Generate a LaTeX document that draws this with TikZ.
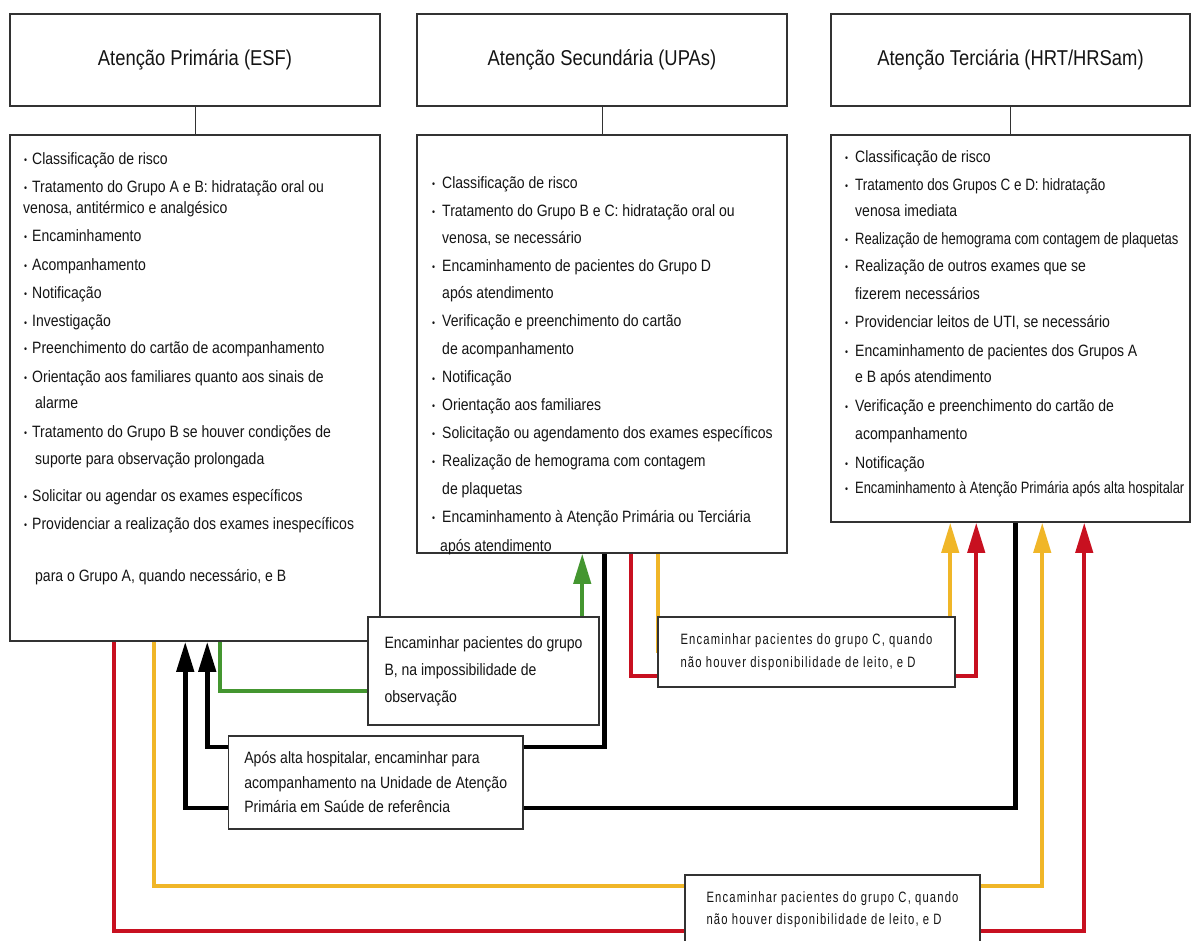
\documentclass[tikz,border=0pt]{standalone}
\usepackage{fontspec}
\usepackage{graphicx}
\setmainfont{Liberation Sans}
\newfontfamily\nf[FakeStretch=0.855]{Liberation Sans}
\newfontfamily\lf[FakeStretch=0.75,LetterSpace=7.7]{Liberation Sans}
\usetikzlibrary{arrows.meta,calc,backgrounds}
\definecolor{cred}{RGB}{200,16,32}
\definecolor{cyel}{RGB}{240,182,40}
\definecolor{cgrn}{RGB}{68,150,48}
\definecolor{ctxt}{RGB}{20,20,20}
\definecolor{cbord}{RGB}{50,50,50}
\newcommand\bul[1]{\makebox[#1][l]{\raisebox{1pt}{\fontsize{10}{10}\selectfont •}}}
\begin{document}
\begin{tikzpicture}[x=1pt,y=-1pt,
  box/.style={draw=cbord,line width=1.5pt,fill=white,rectangle,inner sep=0pt},
  head/.style={box,font=\nf\fontsize{21.5}{24}\selectfont,text=ctxt},
  tx/.style={anchor=west,inner sep=0pt,text height=11pt,text depth=3pt,text=ctxt,font=\nf\fontsize{16.4}{20}\selectfont},
  lab/.style={box,align=left,text=ctxt},
  conn/.style={line width=4pt,-{Triangle[length=30pt,width=17pt]}},
  plainc/.style={line width=4pt},
]
\useasboundingbox (0,0) rectangle (1192,941);

% headers
\node[head,minimum width=370pt,minimum height=92pt] (h1) at (195,60) {Atenção Primária (ESF)};
\node[head,minimum width=370pt,minimum height=92pt] (h2) at (602,60) {Atenção Secundária (UPAs)};
\node[head,minimum width=359pt,minimum height=92pt] (h3) at (1010.5,60) {Atenção Terciária (HRT/HRSam)};

% content boxes
\node[box,minimum width=370pt,minimum height=506pt] (c1) at (195,388) {};
\node[box,minimum width=370pt,minimum height=418pt] (c2) at (602,344) {};
\node[box,minimum width=359pt,minimum height=387pt] (c3) at (1010.5,328.5) {};

\draw[cbord,line width=1pt] (h1) -- (c1);
\draw[cbord,line width=1pt] (h2) -- (c2);
\draw[cbord,line width=1pt] (h3) -- (c3);

% box 1 text
\node[tx] (a1) at (24,161) {\bul{8pt}Classificação de risco};
\node[tx] (a2) at (24,189) {\bul{8pt}Tratamento do Grupo A e B: hidratação oral ou};
\node[tx] (a3) at (23,210) {venosa, antitérmico e analgésico};
\node[tx] (a4) at (24,238) {\bul{8pt}Encaminhamento};
\node[tx] (a5) at (24,267) {\bul{8pt}Acompanhamento};
\node[tx] (a6) at (24,295) {\bul{8pt}Notificação};
\node[tx] (a7) at (24,323) {\bul{8pt}Investigação};
\node[tx] (a8) at (24,350) {\bul{8pt}Preenchimento do cartão de acompanhamento};
\node[tx] (a9) at (24,378) {\bul{8pt}Orientação aos familiares quanto aos sinais de};
\node[tx] (a10) at (35,405) {alarme};
\node[tx] (a11) at (24,433) {\bul{8pt}Tratamento do Grupo B se houver condições de};
\node[tx] (a12) at (35,460) {suporte para observação prolongada};
\node[tx] (a13) at (24,497) {\bul{8pt}Solicitar ou agendar os exames específicos};
\node[tx] (a14) at (24,525) {\bul{8pt}Providenciar a realização dos exames inespecíficos};
\node[tx] (a15) at (35,577) {para o Grupo A, quando necessário, e B};

% box 2 text
\node[tx] (b1) at (432,185) {\bul{10pt}Classificação de risco};
\node[tx] (b2) at (432,212.6) {\bul{10pt}Tratamento do Grupo B e C: hidratação oral ou};
\node[tx] (b3) at (442,240) {venosa, se necessário};
\node[tx] (b4) at (432,268) {\bul{10pt}Encaminhamento de pacientes do Grupo D};
\node[tx] (b5) at (442,295) {após atendimento};
\node[tx] (b6) at (432,323) {\bul{10pt}Verificação e preenchimento do cartão};
\node[tx] (b7) at (442,351) {de acompanhamento};
\node[tx] (b8) at (432,379) {\bul{10pt}Notificação};
\node[tx] (b9) at (432,406) {\bul{10pt}Orientação aos familiares};
\node[tx] (b10) at (432,434) {\bul{10pt}Solicitação ou agendamento dos exames específicos};
\node[tx] (b11) at (432,462) {\bul{10pt}Realização de hemograma com contagem};
\node[tx] (b12) at (442,490) {de plaquetas};
\node[tx] (b13) at (432,518) {\bul{10pt}Encaminhamento à Atenção Primária ou Terciária};
\node[tx] (b14) at (440,547) {após atendimento};

% box 3 text
\node[tx] (d1) at (845,159) {\bul{10pt}Classificação de risco};
\node[tx] (d2) at (845,187) {\bul{10pt}\scalebox{0.96}[1]{Tratamento dos Grupos C e D: hidratação}};
\node[tx] (d3) at (855,213) {venosa imediata};
\node[tx] (d4) at (845,241) {\bul{10pt}\scalebox{0.93}[1]{Realização de hemograma com contagem de plaquetas}};
\node[tx] (d5) at (845,268) {\bul{10pt}Realização de outros exames que se};
\node[tx] (d6) at (855,296) {fizerem necessários};
\node[tx] (d7) at (845,324) {\bul{10pt}Providenciar leitos de UTI, se necessário};
\node[tx] (d8) at (845,352) {\bul{10pt}Encaminhamento de pacientes dos Grupos A};
\node[tx] (d9) at (855,379) {e B após atendimento};
\node[tx] (d10) at (845,407) {\bul{10pt}Verificação e preenchimento do cartão de};
\node[tx] (d11) at (855,435) {acompanhamento};
\node[tx] (d12) at (845,464) {\bul{10pt}Notificação};
\node[tx] (d13) at (845,489) {\bul{10pt}\scalebox{0.92}[1]{Encaminhamento à Atenção Primária após alta hospitalar}};

% label boxes
\node[lab,minimum width=231pt,minimum height=108pt,font=\nf\fontsize{16.4}{27}\selectfont] (lb) at (483.5,671)
  {Encaminhar pacientes do grupo\\B, na impossibilidade de\\observação};
\node[lab,minimum width=294.5pt,minimum height=93pt,font=\nf\fontsize{16.4}{24.5}\selectfont] (la) at (375.75,782.5)
  {Após alta hospitalar, encaminhar para\\acompanhamento na Unidade de Atenção\\Primária em Saúde de referência};
\node[lab,minimum width=297pt,minimum height=70pt,font=\lf\fontsize{15}{23}\selectfont] (lc1) at (806.5,652)
  {Encaminhar pacientes do grupo C, quando\\não houver disponibilidade de leito, e D};
\node[lab,minimum width=295pt,minimum height=70pt,font=\lf\fontsize{15}{22}\selectfont] (lc2) at (832.5,910)
  {Encaminhar pacientes do grupo C, quando\\não houver disponibilidade de leito, e D};

% connectors, behind the label boxes
\begin{pgfonlayer}{background}
\fill[white] (0,0) rectangle (1192,941);
\draw[plainc,cgrn] ([xshift=211pt]c1.south west) |- ([yshift=-20pt]lb.west);
\draw[conn,cgrn] ([xshift=215pt,yshift=-20pt]lb.north west) -- ([xshift=166pt]c2.south west);
\draw[conn,black,line width=4.5pt] ([xshift=188pt]c2.south west) -- ++(0,193) -| ([xshift=198pt]c1.south west);
\draw[conn,black,line width=4.5pt] ([xshift=185pt]c3.south west) -- ++(0,285) -| ([xshift=176pt]c1.south west);
\draw[conn,cred] ([xshift=215pt]c2.south west) -- ++(0,122) -| ([xshift=146pt]c3.south west);
\draw[conn,cyel] ([xshift=242pt]c2.south west) -- ++(0,97) -| ([xshift=120pt]c3.south west);
\draw[conn,cyel] ([xshift=145pt]c1.south west) -- ++(0,244) -| ([xshift=212pt]c3.south west);
\draw[conn,cred] ([xshift=105pt]c1.south west) -- ++(0,289) -| ([xshift=254pt]c3.south west);
\end{pgfonlayer}
\end{tikzpicture}
\end{document}
